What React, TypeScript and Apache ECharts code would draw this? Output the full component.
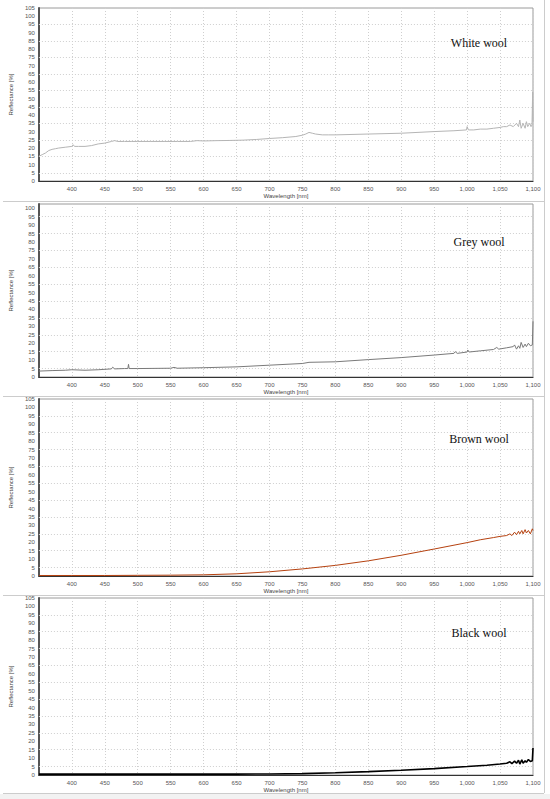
import React, { useEffect, useRef } from "react";
import * as echarts from "echarts";

// ---- data ----
const panelTitles = ["White wool", "Grey wool", "Brown wool", "Black wool"];
const lineColors = ["#b5b5b5", "#7a7a7a", "#b5410f", "#000000"];

const whiteX = [350,355,360,365,370,375,380,390,400,402,404,410,420,430,440,450,460,465,470,480,490,500,520,540,560,580,590,600,620,640,660,680,700,720,740,750,755,760,765,770,780,790,800,850,900,950,980,999,1000,1002,1010,1020,1030,1040,1050,1055,1060,1065,1070,1075,1078,1080,1082,1085,1088,1090,1092,1095,1097,1098.5,1099.5,1100];
const whiteY = [15,16,17,18.5,19.2,19.6,20,20.5,21,22,21,21,21,21.5,22.5,23,24,24.5,24,24,24,24,24,24,24,24,24.5,24.3,24.5,24.6,24.8,25.2,25.8,26.3,27,27.8,28.5,29.5,29,28.5,28,28,28,28.5,29,30,30.5,31,33,31,31,31.5,31.5,32,32.5,33,33,34,33,35,33,37,32,35,32,36,33,35,33,34,54,36];

const greyX = [350,370,390,400,420,440,460,462,465,480,485,486,487,500,550,555,560,600,650,700,750,760,800,850,900,950,980,982,985,1000,1001,1003,1020,1040,1045,1048,1060,1070,1072,1075,1078,1080,1082,1085,1088,1090,1093,1096,1099,1100];
const greyY = [3.5,3.8,4,4.3,4,4.3,4.8,5.8,4.8,5,5,7.5,5,5,5.2,5.7,5.2,5.5,6,7,8,8.7,9,10.3,11.5,13,14,15,14,14.8,16,14.8,15.5,16.3,17.5,16.5,17.3,18,19,16.5,18.5,17,20.5,17.5,19.5,18,20,18.5,19,33];

const brownX = [350,400,450,500,550,600,650,700,750,800,850,900,950,1000,1020,1040,1050,1060,1065,1068,1072,1075,1078,1080,1083,1085,1088,1090,1093,1096,1099,1100];
const brownY = [0.3,0.3,0.3,0.4,0.5,0.7,1.3,2.5,4.2,6.3,9,12.3,16,19.8,21.5,22.8,23.5,24,25,24,26,24.5,26.5,25,27,25,27.5,25.5,27,25,28,27];

const blackX = [350,400,450,500,550,600,650,700,750,800,850,900,950,1000,1030,1050,1060,1065,1068,1072,1075,1078,1080,1083,1085,1088,1090,1093,1096,1099,1100];
const blackY = [0.5,0.6,0.5,0.5,0.5,0.5,0.5,0.6,0.8,1.3,2,2.8,3.8,5,5.8,6.5,7,7.8,6.8,8.2,7,8.8,6.5,9,7,8.5,7.5,9.2,8,8.5,16];

const yGridValues = [5, 15, 25, 35, 45, 55, 65, 75, 85, 95];
const xMin = 350;
const xMax = 1100;
const yMaxes = [105, 102.5, 105, 105];

const seriesX = [whiteX, greyX, brownX, blackX];
const seriesY = [whiteY, greyY, brownY, blackY];

// layout (px)
const gridTops = [8, 204, 399, 598];
const gridHeights = [173, 173, 177, 177];
const titleYs = [43, 242, 439, 633];
const separatorYs = [201, 396, 595, 793];

export default function App() {
  const ref = useRef<HTMLDivElement>(null);
  useEffect(() => {
    if (!ref.current) return;
    const chart = echarts.init(ref.current, null, { renderer: "svg" });
    const font = "'Liberation Sans', Arial, sans-serif";
    const grids = gridTops.map((t, i) => ({
      left: 31,
      width: 502,
      top: t,
      height: gridHeights[i],
      show: true,
      borderColor: "#9a9a9a",
      borderWidth: 1,
      backgroundColor: "#ffffff",
    }));
    const xAxes = gridTops.map((_, i) => ({
      type: "value",
      gridIndex: i,
      min: xMin,
      max: xMax,
      interval: 50,
      name: "Wavelength [nm]",
      nameLocation: "middle",
      nameGap: 12,
      nameTextStyle: { fontSize: 6, color: "#444", fontFamily: font },
      axisLine: { show: true, lineStyle: { color: "#333", width: 1.2 } },
      axisTick: { show: false },
      axisLabel: {
        fontSize: 6,
        color: "#555",
        fontFamily: font,
        margin: 5,
        formatter: (v: number) => (v === xMin ? "" : v.toLocaleString("en-US")),
      },
      splitLine: { show: true, lineStyle: { color: "#cfcfcf", type: [1, 2], width: 1 } },
    }));
    const yAxes = gridTops.map((_, i) => ({
      type: "value",
      gridIndex: i,
      min: 0,
      max: yMaxes[i],
      interval: 5,
      name: "Reflectance [%]",
      nameLocation: "middle",
      nameGap: 16,
      nameRotate: 90,
      nameTextStyle: { fontSize: 6, color: "#444", fontFamily: font },
      axisLine: { show: true, lineStyle: { color: "#555", width: 2 } },
      axisTick: { show: false },
      axisLabel: {
        fontSize: 6,
        color: "#555",
        fontFamily: font,
        margin: 4,
        showMaxLabel: yMaxes[i] % 5 === 0,
      },
      splitLine: { show: false },
    }));
    const series = seriesX.map((xs, i) => ({
      type: "line",
      xAxisIndex: i,
      yAxisIndex: i,
      showSymbol: false,
      symbol: "none",
      clip: false,
      data: xs.map((x, k) => [x, seriesY[i][k]]),
      lineStyle: { color: lineColors[i], width: i === 3 ? 1.6 : 1 },
      z: 5,
      markLine: {
        silent: true,
        symbol: "none",
        label: { show: false },
        lineStyle: { color: "#cfcfcf", type: [1, 2], width: 1 },
        data: yGridValues.map((v) => ({ yAxis: v })),
        z: 1,
      },
    }));
    const graphics: any[] = [];
    separatorYs.forEach((y) => {
      graphics.push({
        type: "line",
        shape: { x1: 3, y1: y + 0.5, x2: 544, y2: y + 0.5 },
        style: { stroke: "#cccccc", lineWidth: 1 },
        silent: true,
      });
    });
    graphics.push({
      type: "line",
      shape: { x1: 544.5, y1: 0, x2: 544.5, y2: 793 },
      style: { stroke: "#cccccc", lineWidth: 1 },
      silent: true,
    });
    graphics.push({
      type: "rect",
      shape: { x: 0, y: 794, width: 550, height: 5 },
      style: { fill: "#f2f2f2" },
      silent: true,
    });
    panelTitles.forEach((t, i) => {
      graphics.push({
        type: "text",
        x: 479,
        y: titleYs[i],
        z: 20,
        style: {
          text: t,
          fill: "#111",
          fontSize: 12,
          fontFamily: "'Liberation Serif', 'DejaVu Serif', serif",
          align: "center",
          verticalAlign: "middle",
        },
      });
    });
    chart.setOption({
      animation: false,
      backgroundColor: "#ffffff",
      grid: grids,
      xAxis: xAxes,
      yAxis: yAxes,
      series,
      graphic: graphics,
    } as any);
    return () => chart.dispose();
  }, []);
  return (
    <div
      ref={ref}
      style={{ position: "absolute", left: 0, top: 0, width: 550, height: 799 }}
    />
  );
}
